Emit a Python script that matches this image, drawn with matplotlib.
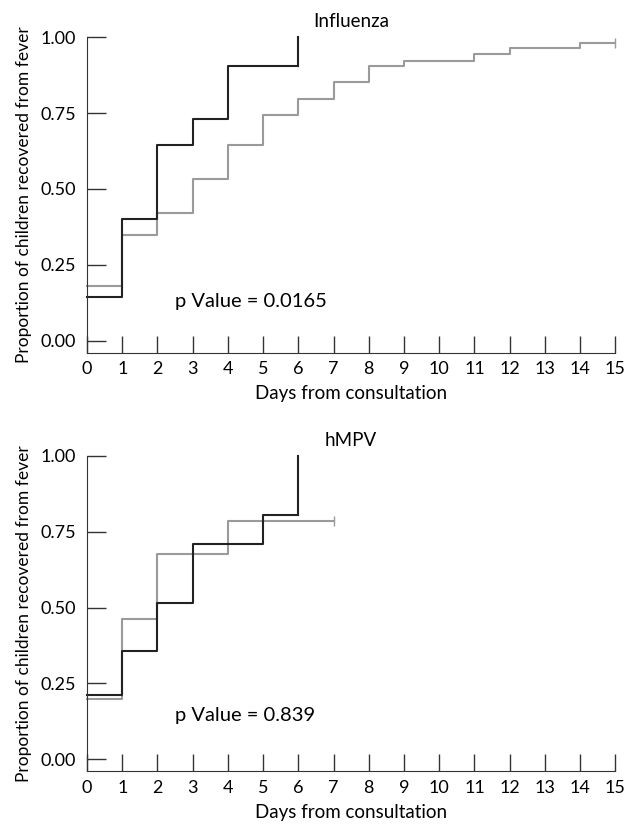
import matplotlib
matplotlib.use('Agg')
import matplotlib.pyplot as plt

plt.rcParams['font.family'] = ['Lato', 'DejaVu Sans']

# influenza: step values on each day interval
flu_black_x = [0, 1, 2, 3, 4, 6]
flu_black_y = [0.145, 0.40, 0.645, 0.73, 0.906, 1.0]
flu_grey_x = [0, 1, 2, 3, 4, 5, 6, 7, 8, 9, 11, 12, 14, 15]
flu_grey_y = [0.179, 0.349, 0.42, 0.532, 0.645, 0.743, 0.796, 0.851, 0.905, 0.921, 0.943, 0.963, 0.981, 0.981]

# hMPV
hmpv_black_x = [0, 1, 2, 3, 5, 6]
hmpv_black_y = [0.212, 0.358, 0.516, 0.709, 0.807, 1.0]
hmpv_grey_x = [0, 1, 2, 4, 7]
hmpv_grey_y = [0.20, 0.464, 0.677, 0.784, 0.784]

panels = [
    ('Influenza', 'p Value = 0.0165', flu_black_x, flu_black_y, flu_grey_x, flu_grey_y, 0.13),
    ('hMPV', 'p Value = 0.839', hmpv_black_x, hmpv_black_y, hmpv_grey_x, hmpv_grey_y, 0.145),
]
positions = [[0.139, 0.573, 0.844, 0.382], [0.139, 0.066, 0.844, 0.382]]

fig = plt.figure(figsize=(6.26, 8.26), dpi=100)
for (title, ptxt, bx, by, gx, gy, py), pos in zip(panels, positions):
    ax = fig.add_axes(pos)
    ax.step(gx, gy, where='post', color='#9a9a9a', lw=1.5, clip_on=False)
    ax.plot([gx[-1]], [gy[-1]], marker='|', color='#9a9a9a', ms=7, mew=1.0, clip_on=False)
    # black curve: last point is the jump to 1.0
    ax.step(bx, by[:-1] + [by[-2]], where='post', color='#222222', lw=1.5, clip_on=False)
    ax.plot([bx[-1], bx[-1]], [by[-2], by[-1]], color='#222222', lw=1.5, clip_on=False)
    ax.set_xlim(0, 15)
    ax.set_ylim(-0.04, 1.0)
    ax.set_xticks(range(16))
    ax.set_yticks([0, 0.25, 0.5, 0.75, 1.0])
    ax.set_yticklabels(['0.00', '0.25', '0.50', '0.75', '1.00'])
    ax.spines['top'].set_visible(False)
    ax.spines['right'].set_visible(False)
    ax.spines['left'].set_color('#333333')
    ax.spines['bottom'].set_color('#333333')
    ax.tick_params(direction='in', length=12, width=1, labelsize=13, color='#333333', pad=6)
    ax.tick_params(axis='y', length=14, pad=8)
    ax.set_xlabel('Days from consultation', fontsize=13.5, labelpad=6)
    ax.set_ylabel('Proportion of children recovered from fever', fontsize=12.5, labelpad=6)
    ax.set_title(title, fontsize=13.5, pad=7)
    ax.text(2.5, py, ptxt, fontsize=14.5, va='center')

fig.savefig('out.png', dpi=100)
